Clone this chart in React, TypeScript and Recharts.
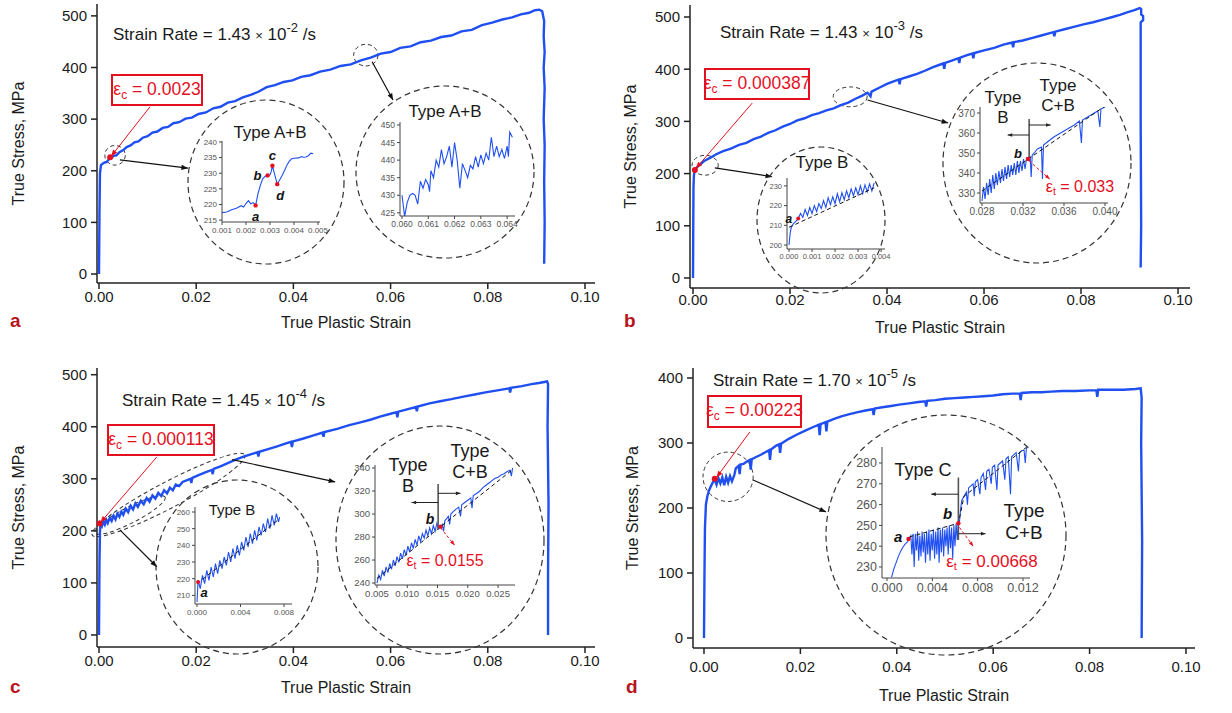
import React from 'react';
import { LineChart, Line, XAxis, YAxis, ReferenceDot, ReferenceLine, ReferenceArea } from 'recharts';

type P = [number, number];

// main curves: [true plastic strain, true stress MPa]
const curveA: P[] = [
  [0, 0], [0.0001, 120], [0.0002, 195], [0.0004, 211], [0.0008, 214], [0.0012, 216], [0.0016, 217], [0.002, 222],
  [0.0024, 224], [0.003, 229], [0.0036, 230], [0.0042, 236], [0.005, 240], [0.0057, 246], [0.0065, 249], [0.0073, 255],
  [0.0081, 257], [0.009, 264], [0.01, 267], [0.011, 274], [0.012, 276], [0.0131, 283], [0.0142, 285], [0.0153, 292],
  [0.0165, 294], [0.0178, 301], [0.0191, 303], [0.0205, 310], [0.022, 313], [0.0235, 321], [0.025, 324], [0.0265, 332],
  [0.028, 335], [0.0296, 342], [0.0312, 347], [0.0328, 353], [0.0345, 362], [0.0362, 366], [0.038, 372], [0.0398, 375],
  [0.0416, 382], [0.0435, 385], [0.0455, 392], [0.0476, 396], [0.0497, 403], [0.0518, 406], [0.0539, 414], [0.0559, 419],
  [0.058, 427], [0.06, 430], [0.062, 438], [0.0641, 441], [0.0662, 449], [0.0683, 452], [0.0704, 459], [0.0725, 462],
  [0.0746, 470], [0.0767, 473], [0.0788, 482], [0.0809, 487], [0.083, 493], [0.085, 497], [0.0868, 503], [0.0885, 506],
  [0.0897, 511], [0.0906, 512], [0.0912, 509], [0.0916, 490], [0.0915, 460], [0.0917, 430], [0.0915, 400], [0.0917, 360],
  [0.0915, 300], [0.0917, 250], [0.0916, 180], [0.0917, 100], [0.0916, 20],
];

const curveB: P[] = [
  [0, 0], [0.00005, 100], [0.0001, 175], [0.0002, 198], [0.0004, 207], [0.0008, 212], [0.0014, 217], [0.0023, 224],
  [0.0035, 230], [0.0048, 237], [0.0062, 243], [0.0078, 248], [0.0095, 255], [0.011, 259], [0.0125, 266], [0.014, 271],
  [0.0155, 278], [0.017, 283], [0.0185, 290], [0.02, 295], [0.0215, 302], [0.023, 306], [0.0245, 312], [0.026, 316],
  [0.0275, 321], [0.029, 325], [0.0305, 331], [0.032, 336], [0.0334, 343], [0.0348, 349], [0.036, 355], [0.0366, 348],
  [0.0368, 357], [0.0385, 365], [0.04, 372], [0.0415, 377], [0.0424, 380], [0.0426, 371], [0.0428, 381], [0.0445, 386],
  [0.0462, 391], [0.0478, 397], [0.0495, 404], [0.051, 409], [0.0516, 411], [0.0518, 401], [0.052, 412], [0.0535, 417],
  [0.0547, 421], [0.0549, 412], [0.0551, 422], [0.0565, 427], [0.0576, 430], [0.0578, 421], [0.058, 431], [0.06, 436],
  [0.0621, 441], [0.064, 447], [0.0658, 451], [0.066, 442], [0.0662, 452], [0.068, 455], [0.07, 460], [0.072, 465],
  [0.0743, 471], [0.0745, 463], [0.0747, 472], [0.0764, 476], [0.0785, 481], [0.0805, 486], [0.0825, 490], [0.0845, 495],
  [0.0865, 500], [0.088, 504], [0.0895, 509], [0.091, 513], [0.0921, 517], [0.0924, 515], [0.0924, 505], [0.0928, 502],
  [0.0928, 494], [0.0923, 490], [0.0923, 300], [0.0924, 100], [0.0923, 20],
];

const curveC: P[] = [
  [0, 0], [0.0001, 140], [0.0002, 200], [0.0003, 214], [0.0006, 209], [0.0009, 218], [0.0012, 212], [0.0015, 221],
  [0.0018, 215], [0.0022, 225], [0.0026, 219], [0.003, 229], [0.0034, 222], [0.0038, 233], [0.0042, 227], [0.0046, 237],
  [0.005, 231], [0.0055, 243], [0.006, 236], [0.0065, 248], [0.007, 241], [0.0075, 253], [0.008, 246], [0.0086, 258],
  [0.0092, 251], [0.0098, 263], [0.0104, 256], [0.011, 268], [0.0116, 262], [0.0122, 273], [0.0128, 267], [0.0134, 278],
  [0.014, 272], [0.0146, 283], [0.0152, 278], [0.0158, 289], [0.0165, 286], [0.0172, 294], [0.018, 297], [0.0188, 300],
  [0.019, 292], [0.0192, 302], [0.0205, 307], [0.022, 313], [0.0232, 317], [0.0234, 309], [0.0236, 319], [0.025, 324],
  [0.0265, 330], [0.0281, 337], [0.0296, 342], [0.0312, 347], [0.0326, 351], [0.0328, 343], [0.033, 352], [0.0348, 357],
  [0.0365, 362], [0.0385, 368], [0.0395, 371], [0.0397, 361], [0.0399, 372], [0.0419, 377], [0.044, 383], [0.046, 389],
  [0.0462, 381], [0.0464, 390], [0.049, 396], [0.0515, 403], [0.054, 409], [0.056, 414], [0.058, 420], [0.06, 425],
  [0.0612, 428], [0.0614, 418], [0.0616, 429], [0.0632, 433], [0.0652, 438], [0.0654, 430], [0.0656, 439], [0.068, 445],
  [0.0702, 449], [0.0725, 453], [0.075, 458], [0.0773, 462], [0.0795, 466], [0.082, 470], [0.0844, 474], [0.0846, 466],
  [0.0848, 475], [0.087, 478], [0.089, 482], [0.0905, 484], [0.0922, 487], [0.0924, 482], [0.0923, 400], [0.0925, 250],
  [0.0924, 120], [0.0924, 0],
];

const curveD: P[] = [
  [0, 0], [0.0001, 100], [0.0002, 170], [0.0004, 205], [0.0007, 218], [0.001, 226], [0.0014, 233], [0.0018, 239],
  [0.0022, 244], [0.0026, 236], [0.003, 246], [0.0034, 238], [0.0038, 247], [0.0042, 235], [0.0046, 248], [0.005, 239],
  [0.0054, 249], [0.0058, 241], [0.0063, 251], [0.0066, 261], [0.0072, 265], [0.0074, 252], [0.0076, 267], [0.0082, 268],
  [0.009, 272], [0.0095, 274], [0.0097, 259], [0.0099, 275], [0.0107, 278], [0.0118, 282], [0.013, 287], [0.0135, 289],
  [0.0137, 274], [0.0139, 290], [0.015, 296], [0.0156, 298], [0.0158, 285], [0.016, 299], [0.0175, 306], [0.019, 312],
  [0.021, 319], [0.0228, 325], [0.0238, 328], [0.024, 312], [0.0242, 329], [0.0252, 332], [0.0254, 318], [0.0256, 333],
  [0.027, 337], [0.0285, 341], [0.03, 344], [0.0317, 347], [0.0335, 350], [0.035, 352], [0.0352, 343], [0.0354, 353],
  [0.037, 355], [0.0388, 357], [0.0405, 359], [0.0425, 361], [0.0445, 363], [0.0459, 364], [0.0461, 356], [0.0463, 365],
  [0.048, 366], [0.05, 368], [0.052, 369], [0.054, 370], [0.056, 371], [0.058, 372], [0.06, 373], [0.062, 375],
  [0.064, 376], [0.0655, 376], [0.0657, 366], [0.0659, 377], [0.068, 378], [0.07, 378], [0.072, 379], [0.0743, 380],
  [0.077, 380], [0.08, 381], [0.0814, 381], [0.0816, 371], [0.0818, 382], [0.084, 382], [0.087, 382], [0.0895, 383],
  [0.0906, 384], [0.0908, 370], [0.0907, 300], [0.0909, 150], [0.0908, 0],
];

// insets
const insetA1: P[] = [
  [0.001, 217.4], [0.0012, 217.6], [0.0014, 218.3], [0.0016, 218.8], [0.0018, 219.6], [0.0019, 219.2], [0.002, 220.3],
  [0.0021, 221.2], [0.0022, 220.2], [0.0023, 220.6], [0.0024, 219.7], [0.0025, 223.5], [0.0026, 226.2], [0.0027, 228.3],
  [0.0028, 229.0], [0.0029, 229.3], [0.003, 229.5], [0.00305, 230.5], [0.0031, 232.4], [0.0032, 229.5], [0.0033, 226.5],
  [0.0034, 227.8], [0.0035, 229.2], [0.0036, 230.8], [0.0037, 232.5], [0.0038, 233.8], [0.0039, 234.6], [0.004, 234.8],
  [0.0042, 234.9], [0.0043, 235.3], [0.0044, 235.1], [0.0045, 235.2], [0.0046, 235.6], [0.0047, 236.4], [0.0048, 236.2],
];

const insetA2: P[] = [
  [0.06, 430], [0.0601, 424], [0.0602, 428], [0.0603, 430], [0.0604, 430.5], [0.0605, 430], [0.0606, 427.5], [0.0607, 434],
  [0.0608, 432], [0.0609, 434.5], [0.061, 433], [0.06105, 431], [0.0611, 437], [0.0612, 435], [0.0613, 440], [0.0614, 438],
  [0.0615, 443], [0.0616, 439], [0.0617, 441], [0.0618, 444], [0.0619, 438], [0.062, 445], [0.0621, 440], [0.0622, 432],
  [0.0623, 439], [0.0624, 437], [0.0625, 435], [0.0626, 438.5], [0.0627, 437.5], [0.0628, 441], [0.0629, 438], [0.063, 441.5],
  [0.0631, 439], [0.0632, 442], [0.0633, 440], [0.0634, 446.5], [0.0635, 441], [0.0636, 444], [0.0637, 441], [0.0638, 443],
  [0.0639, 440.5], [0.064, 444], [0.06405, 441], [0.0641, 448], [0.0642, 446.5],
];

const insetB1: P[] = [
  [0, 200], [0.00005, 206], [0.0001, 209], [0.0002, 211], [0.0003, 212], [0.0004, 213.5], [0.0005, 216], [0.0006, 214],
  [0.0007, 218], [0.0008, 215], [0.0009, 219], [0.001, 216], [0.0011, 220], [0.0012, 217], [0.0013, 221], [0.0014, 218.5],
  [0.0015, 222.5], [0.0016, 219], [0.0017, 224], [0.0018, 220.5], [0.0019, 224.5], [0.002, 221], [0.0021, 226], [0.0022, 222],
  [0.0023, 226.5], [0.0024, 223], [0.0025, 227.5], [0.0026, 224], [0.0027, 228.5], [0.0028, 225], [0.0029, 229], [0.003, 225.5],
  [0.0031, 230], [0.0032, 226], [0.0033, 230.5], [0.0034, 227], [0.0035, 231], [0.0036, 227.5], [0.0037, 231.5],
];
const trendB1: P[] = [[0, 209], [0.0037, 229]];

const insetB2: P[] = [
  [0.028, 326], [0.02815, 333], [0.0283, 327], [0.02845, 335], [0.0286, 329], [0.02875, 337], [0.0289, 330], [0.02905, 339],
  [0.0292, 332], [0.02935, 340], [0.0295, 334], [0.02965, 341], [0.0298, 335], [0.02995, 342], [0.0301, 336], [0.03025, 343],
  [0.0304, 337], [0.03055, 344], [0.0307, 338], [0.03085, 344], [0.031, 339], [0.03115, 345], [0.0313, 339], [0.03145, 346],
  [0.0316, 340], [0.03175, 346], [0.0319, 341], [0.03205, 347], [0.0322, 342], [0.03235, 347.5], [0.0325, 347], [0.0327, 348],
  [0.0328, 338], [0.0329, 349], [0.0331, 350], [0.0334, 352], [0.0338, 353], [0.0339, 337], [0.034, 354], [0.0345, 356],
  [0.035, 358], [0.0355, 359.5], [0.036, 361], [0.0365, 362.5], [0.037, 364], [0.0375, 366], [0.0377, 355], [0.0378, 366.5],
  [0.0383, 368], [0.0388, 369.5], [0.0393, 371], [0.0395, 363], [0.0396, 372], [0.04, 373],
];
const trendB2: P[] = [[0.028, 331], [0.04, 373.5]];

const insetC1: P[] = [
  [0, 206], [0.0001, 219], [0.0003, 214], [0.0005, 222], [0.0007, 217], [0.0009, 225], [0.0011, 219], [0.0013, 227],
  [0.0015, 221], [0.0017, 229], [0.0019, 223], [0.0021, 231], [0.0023, 226], [0.0025, 233], [0.0027, 228], [0.0029, 236],
  [0.0031, 230], [0.0033, 238], [0.0035, 232], [0.0037, 240], [0.0039, 234], [0.0041, 242], [0.0043, 237], [0.0045, 245],
  [0.0047, 239], [0.0049, 247], [0.0051, 241], [0.0053, 249], [0.0055, 243], [0.0057, 251], [0.0059, 246], [0.0061, 253],
  [0.0063, 248], [0.0065, 256], [0.0067, 250], [0.0069, 258], [0.0071, 252], [0.0073, 259], [0.0075, 254], [0.0076, 257],
];
const trendC1: P[] = [[0, 217], [0.0076, 256]];

const insetC2: P[] = [
  [0.005, 240], [0.0053, 247], [0.0056, 243], [0.0059, 251], [0.0062, 246], [0.0065, 254], [0.0068, 249], [0.0071, 257],
  [0.0074, 252], [0.0077, 260], [0.008, 255], [0.0083, 263], [0.0086, 258], [0.0089, 266], [0.0092, 261], [0.0095, 269],
  [0.0098, 264], [0.0101, 272], [0.0104, 267], [0.0107, 275], [0.011, 270], [0.0113, 278], [0.0116, 273], [0.0119, 281],
  [0.0122, 276], [0.0125, 283], [0.0128, 279], [0.0131, 286], [0.0134, 281], [0.0137, 288], [0.014, 283], [0.0143, 290],
  [0.0146, 285], [0.0149, 292], [0.0152, 287], [0.0155, 289], [0.0158, 291], [0.016, 285], [0.0162, 294], [0.0165, 296],
  [0.0168, 298], [0.017, 291], [0.0172, 300], [0.0176, 302], [0.018, 304], [0.0185, 306], [0.0188, 298], [0.019, 308],
  [0.0195, 310], [0.02, 312], [0.0205, 314], [0.0207, 305], [0.0209, 316], [0.0215, 318], [0.022, 320], [0.0225, 323],
  [0.023, 325], [0.0235, 327], [0.024, 329], [0.0245, 331], [0.025, 332], [0.0255, 334], [0.026, 335], [0.0265, 337],
  [0.027, 338], [0.0272, 333], [0.0274, 340],
];
const trendC2: P[] = [[0.005, 244], [0.0155, 289], [0.0275, 339]];

const insetD1: P[] = [
  [0.0004, 225], [0.0006, 229], [0.0008, 232], [0.001, 235], [0.0012, 237.5], [0.0014, 239.5], [0.0016, 241], [0.0018, 242],
  [0.0019, 243], [0.0021, 245], [0.0022, 236], [0.0023, 246], [0.0024, 230], [0.0025, 246], [0.0026, 238], [0.0027, 247],
  [0.0028, 233], [0.0029, 245], [0.003, 235], [0.0031, 247], [0.0032, 237], [0.0033, 246], [0.0034, 232], [0.0035, 247],
  [0.0036, 236], [0.0037, 248], [0.0038, 233], [0.0039, 246], [0.004, 238], [0.0041, 248], [0.0042, 234], [0.0043, 247],
  [0.0044, 236], [0.0045, 249], [0.0046, 232], [0.0047, 248], [0.0048, 237], [0.0049, 249], [0.005, 235], [0.0051, 248],
  [0.0052, 240], [0.0053, 249], [0.0054, 236], [0.0055, 250], [0.0056, 239], [0.0057, 249], [0.0058, 234], [0.0059, 250],
  [0.006, 240], [0.0061, 251], [0.0062, 243], [0.0063, 251], [0.0064, 252], [0.0065, 258], [0.0066, 262], [0.0068, 264],
  [0.007, 266], [0.0071, 260], [0.0072, 268], [0.0074, 269], [0.0076, 270], [0.0077, 264], [0.0078, 271], [0.008, 272],
  [0.0082, 265], [0.0083, 273], [0.0085, 275], [0.0087, 267], [0.0088, 276], [0.009, 277], [0.0092, 270], [0.0093, 278],
  [0.0095, 279], [0.0097, 267], [0.0098, 279], [0.01, 280], [0.0102, 281], [0.0104, 272], [0.0105, 282], [0.0107, 283],
  [0.0109, 265], [0.011, 283], [0.0112, 284], [0.0114, 285], [0.0116, 276], [0.0117, 285], [0.0119, 286], [0.0121, 286],
  [0.0122, 280], [0.0123, 287], [0.0124, 287.5],
];
const trendD1: P[] = [[0.002, 244.5], [0.0063, 251], [0.0068, 264], [0.0124, 288]];

const mainXTicks = [0, 0.02, 0.04, 0.06, 0.08, 0.1];
const ticks500 = [0, 100, 200, 300, 400, 500];
const ticks400 = [0, 100, 200, 300, 400];

const BLUE = '#1f4ff0';
const RED = '#e5101f';
const INK = '#1a1a1a';

const pts = (a: P[]) => a.map(([s, v]) => ({ s, v }));
const seg = (s1: number, v1: number, s2: number, v2: number) => [{ x: s1, y: v1 }, { x: s2, y: v2 }];

const arrow = (color: string, w = 1.2, dash?: string, head = 7) => (p: any) => {
  const { x1, y1, x2, y2 } = p;
  const a = Math.atan2(y2 - y1, x2 - x1);
  const hx = (d: number) => x2 - head * Math.cos(a + d);
  const hy = (d: number) => y2 - head * Math.sin(a + d);
  return (
    <g>
      <line x1={x1} y1={y1} x2={x2} y2={y2} stroke={color} strokeWidth={w} strokeDasharray={dash} />
      <polygon points={`${x2},${y2} ${hx(0.38)},${hy(0.38)} ${hx(-0.38)},${hy(-0.38)}`} fill={color} />
    </g>
  );
};
const bar = (p: any) => <line x1={p.x1} y1={p.y1} x2={p.x2} y2={p.y2} stroke="#555" strokeWidth={1.6} />;

const ellipse = (ry = 0) => (p: any) => {
  const { x, y, width, height } = p;
  const cx = x + width / 2;
  const cy = y + height / 2;
  if (!ry) {
    return <ellipse cx={cx} cy={cy} rx={width / 2} ry={height / 2} fill="none" stroke="#333" strokeWidth={1} strokeDasharray="4 3" />;
  }
  const rx = Math.hypot(width, height) / 2;
  const deg = (Math.atan2(-height, width) * 180) / Math.PI;
  return (
    <ellipse cx={cx} cy={cy} rx={rx} ry={ry} transform={`rotate(${deg} ${cx} ${cy})`}
      fill="none" stroke="#333" strokeWidth={1} strokeDasharray="4 3" />
  );
};

type Cfg = {
  left: number; top: number; width: number; height: number; mt: number; mr: number; yw: number; xh: number;
  xd: [number, number]; yd: [number, number]; yTicks: number[]; xtm: number; xlo: number; ylo: number;
};

const cfgA: Cfg = { left: 0, top: 0, width: 610, height: 345, mt: 4, mr: 15, yw: 97, xh: 62, xd: [-0.00041, 0.10206], yd: [-17.4, 523], yTicks: ticks500, xtm: 2, xlo: 17, ylo: 18 };
const cfgB: Cfg = { left: 616, top: 0, width: 590, height: 345, mt: 5, mr: 16, yw: 74, xh: 57, xd: [-0.00062, 0.10247], yd: [-19.2, 523], yTicks: ticks500, xtm: 0, xlo: 12, ylo: 14 };
const cfgC: Cfg = { left: 0, top: 360, width: 610, height: 353, mt: 8, mr: 15, yw: 97, xh: 66, xd: [-0.00041, 0.10206], yd: [-23.1, 512.9], yTicks: ticks500, xtm: 2, xlo: 20, ylo: 18 };
const cfgD: Cfg = { left: 616, top: 360, width: 590, height: 353, mt: 8, mr: 11, yw: 77, xh: 65, xd: [-0.00228, 0.10187], yd: [-15.4, 415.4], yTicks: ticks400, xtm: 7, xlo: 12, ylo: 16 };

const axisStroke = { stroke: '#222', strokeWidth: 1.5 };

function MainChart({ cfg, data, children }: { cfg: Cfg; data: P[]; children?: React.ReactNode }) {
  return (
    <div style={{ position: 'absolute', left: cfg.left, top: cfg.top }}>
      <LineChart width={cfg.width} height={cfg.height} data={pts(data)} margin={{ top: cfg.mt, right: cfg.mr, bottom: 0, left: 0 }}>
        <XAxis type="number" dataKey="s" domain={cfg.xd} ticks={mainXTicks} allowDataOverflow interval={0} height={cfg.xh}
          tickFormatter={(t: number) => t.toFixed(2)} tick={{ fontSize: 15, fill: INK }} tickSize={6} tickMargin={cfg.xtm}
          axisLine={axisStroke} tickLine={axisStroke}
          label={{ value: 'True Plastic Strain', position: 'insideBottom', offset: cfg.xlo, fontSize: 16, fill: INK }} />
        <YAxis type="number" dataKey="v" domain={cfg.yd} ticks={cfg.yTicks} allowDataOverflow interval={0} width={cfg.yw}
          tick={{ fontSize: 15, fill: INK }} tickSize={6} tickMargin={4} axisLine={axisStroke} tickLine={axisStroke}
          label={{ value: 'True Stress, MPa', angle: -90, position: 'insideLeft', offset: cfg.ylo, fontSize: 16, fill: INK, style: { textAnchor: 'middle' } }} />
        <Line dataKey="v" stroke={BLUE} strokeWidth={2.4} dot={false} isAnimationActive={false} />
        {children}
      </LineChart>
    </div>
  );
}

type Box = { x: number; y: number; r: number; b: number };
type InsetProps = {
  box: Box; xd: [number, number]; yd: [number, number]; xTicks: number[]; yTicks: number[];
  font: number; data: P[]; trend?: P[]; children?: React.ReactNode;
};

function Inset({ box, xd, yd, xTicks, yTicks, font, data, trend, children }: InsetProps) {
  const yw = 34, xh = 24, mt = 4, mr = 16;
  const ax = { stroke: '#444', strokeWidth: 1 };
  return (
    <div style={{ position: 'absolute', left: box.x - yw, top: box.y - mt }}>
      <LineChart width={box.r - box.x + yw + mr} height={box.b - box.y + mt + xh} margin={{ top: mt, right: mr, bottom: 0, left: 0 }}>
        <XAxis type="number" dataKey="s" domain={xd} ticks={xTicks} allowDataOverflow interval={0} height={xh}
          tickFormatter={(t: number) => t.toFixed(3)} tick={{ fontSize: font, fill: '#555' }} tickSize={3} tickMargin={2}
          axisLine={ax} tickLine={ax} />
        <YAxis type="number" dataKey="v" domain={yd} ticks={yTicks} allowDataOverflow interval={0} width={yw}
          tick={{ fontSize: font, fill: '#555' }} tickSize={3} tickMargin={2} axisLine={ax} tickLine={ax} />
        <Line data={pts(data)} dataKey="v" stroke={BLUE} strokeWidth={1.1} dot={false} isAnimationActive={false} />
        {trend && (
          <Line data={pts(trend)} dataKey="v" stroke="#111" strokeWidth={1} strokeDasharray="4 3" dot={false} isAnimationActive={false} />
        )}
        {children}
      </LineChart>
    </div>
  );
}

const ptLabel = (value: string, position: string, fontSize = 13, extra: any = {}) => ({
  value, position, fontSize, fontWeight: 700, fontStyle: 'italic', fill: '#111', offset: 4, ...extra,
});

function Txt({ x, y, size, color = INK, children }: { x: number; y: number; size: number; color?: string; children: React.ReactNode }) {
  return (
    <div style={{ position: 'absolute', left: x, top: y, transform: 'translate(-50%, -50%)', fontSize: size, color, textAlign: 'center', lineHeight: 1.15, whiteSpace: 'nowrap' }}>
      {children}
    </div>
  );
}

function RateText({ x, y, mant, exp }: { x: number; y: number; mant: string; exp: string }) {
  return (
    <div style={{ position: 'absolute', left: x, top: y, fontSize: 17, color: INK, whiteSpace: 'nowrap' }}>
      Strain Rate = {mant} <span style={{ fontSize: 13 }}>×</span> 10<sup style={{ fontSize: 13, verticalAlign: 8 }}>{exp}</sup> /s
    </div>
  );
}

function EpsBox({ x, y, w, h, val }: { x: number; y: number; w: number; h: number; val: string }) {
  return (
    <div style={{ position: 'absolute', left: x, top: y, width: w, height: h, border: `2px solid ${RED}`, background: '#fff', color: RED, fontSize: 17.5, display: 'flex', alignItems: 'center', justifyContent: 'center', boxSizing: 'border-box', whiteSpace: 'nowrap' }}>
      <span>ε<sub style={{ fontSize: 12, verticalAlign: -4 }}>c</sub> = {val}</span>
    </div>
  );
}

const Eps = ({ sub, val }: { sub: string; val: string }) => (
  <span>ε<sub style={{ fontSize: '0.65em', verticalAlign: -3 }}>{sub}</sub> = {val}</span>
);

function PanelLetter({ x, y, t }: { x: number; y: number; t: string }) {
  return <div style={{ position: 'absolute', left: x, top: y, fontSize: 19, fontWeight: 700, color: '#b8141e' }}>{t}</div>;
}

// dashed inset circles (page px)
const circles = [
  { cx: 266, cy: 182, rx: 78, ry: 82 },
  { cx: 445, cy: 172, rx: 89, ry: 86 },
  { cx: 821, cy: 220, rx: 64, ry: 73 },
  { cx: 1037, cy: 163, rx: 94, ry: 100 },
  { cx: 237, cy: 567, rx: 81, ry: 87 },
  { cx: 440, cy: 540, rx: 104, ry: 114 },
  { cx: 946, cy: 535, rx: 120, ry: 120 },
];

export default function App() {
  const blk = arrow('#111', 1.2, undefined, 7);
  const red = arrow(RED, 1, undefined, 7);
  const redDash = arrow(RED, 1, '3 2', 5);
  const small = arrow('#222', 1, undefined, 5);
  return (
    <div style={{ position: 'absolute', left: 0, top: 0, width: 1232, height: 713, background: '#fff', fontFamily: "'Liberation Sans', Arial, sans-serif", overflow: 'hidden' }}>
      <MainChart cfg={cfgA} data={curveA}>
        <ReferenceArea x1={0.0012} x2={0.0054} y1={211} y2={249} ifOverflow="visible" shape={ellipse()} />
        <ReferenceArea x1={0.0524} x2={0.0574} y1={403} y2={445} ifOverflow="visible" shape={ellipse()} />
        <ReferenceLine segment={seg(0.0105, 324, 0.0025, 228)} ifOverflow="visible" shape={red} />
        <ReferenceDot x={0.0023} y={226} r={3} fill={RED} stroke="none" />
        <ReferenceLine segment={seg(0.0043, 221, 0.0183, 205)} ifOverflow="visible" shape={blk} />
        <ReferenceLine segment={seg(0.0562, 411, 0.0605, 337)} ifOverflow="visible" shape={blk} />
      </MainChart>
      <MainChart cfg={cfgB} data={curveB}>
        <ReferenceArea x1={-0.0002} x2={0.0052} y1={197} y2={235} ifOverflow="visible" shape={ellipse()} />
        <ReferenceArea x1={0.0289} x2={0.0359} y1={328} y2={366} ifOverflow="visible" shape={ellipse()} />
        <ReferenceLine segment={seg(0.0122, 335, 0.0006, 210)} ifOverflow="visible" shape={red} />
        <ReferenceDot x={0.000387} y={207} r={3} fill={RED} stroke="none" />
        <ReferenceLine segment={seg(0.0045, 211, 0.0163, 194)} ifOverflow="visible" shape={blk} />
        <ReferenceLine segment={seg(0.036, 341, 0.0526, 297)} ifOverflow="visible" shape={blk} />
      </MainChart>
      <MainChart cfg={cfgC} data={curveC}>
        <ReferenceArea x1={-0.0014} x2={0.03} y1={192} y2={346} ifOverflow="visible" shape={ellipse(13)} />
        <ReferenceArea x1={-0.0008} x2={0.0136} y1={196} y2={265} ifOverflow="visible" shape={ellipse(8)} />
        <ReferenceLine segment={seg(0.0119, 342, 0.0003, 216)} ifOverflow="visible" shape={red} />
        <ReferenceDot x={0.000113} y={214} r={3} fill={RED} stroke="none" />
        <ReferenceLine segment={seg(0.0043, 202, 0.0119, 131)} ifOverflow="visible" shape={blk} />
        <ReferenceLine segment={seg(0.0274, 337, 0.0486, 294)} ifOverflow="visible" shape={blk} />
      </MainChart>
      <MainChart cfg={cfgD} data={curveD}>
        <ReferenceArea x1={-0.0002} x2={0.0102} y1={210} y2={286} ifOverflow="visible" shape={ellipse()} />
        <ReferenceLine segment={seg(0.0095, 317, 0.0026, 247)} ifOverflow="visible" shape={red} />
        <ReferenceDot x={0.00223} y={245} r={3} fill={RED} stroke="none" />
        <ReferenceLine segment={seg(0.0102, 243, 0.0253, 194)} ifOverflow="visible" shape={blk} />
      </MainChart>

      <svg width={1232} height={713} style={{ position: 'absolute', left: 0, top: 0, pointerEvents: 'none' }}>
        {circles.map((c, i) => (
          <ellipse key={i} cx={c.cx} cy={c.cy} rx={c.rx} ry={c.ry} fill="none" stroke="#333" strokeWidth={1.2} strokeDasharray="6 4" />
        ))}
      </svg>

      {/* a: type A+B */}
      <Inset box={{ x: 222, y: 141, r: 320, b: 222 }} xd={[0.001, 0.005083]} yd={[214.4, 240.3]}
        xTicks={[0.001, 0.002, 0.003, 0.004, 0.005]} yTicks={[215, 220, 225, 230, 235, 240]} font={8} data={insetA1}>
        <ReferenceDot x={0.0024} y={219.7} r={2.2} fill={RED} stroke="none" label={ptLabel('a', 'bottom')} />
        <ReferenceDot x={0.0029} y={229.3} r={2.2} fill={RED} stroke="none" label={ptLabel('b', 'left')} />
        <ReferenceDot x={0.0031} y={232.4} r={2.2} fill={RED} stroke="none" label={ptLabel('c', 'top')} />
        <ReferenceDot x={0.0033} y={226.5} r={2.2} fill={RED} stroke="none" label={ptLabel('d', 'bottom', 13, { dx: 3 })} />
      </Inset>
      <Inset box={{ x: 400, y: 122, r: 515, b: 216 }} xd={[0.059924, 0.0643]} yd={[424.1, 450.85]}
        xTicks={[0.06, 0.061, 0.062, 0.063, 0.064]} yTicks={[425, 430, 435, 440, 445, 450]} font={8.5} data={insetA2} />

      {/* b */}
      <Inset box={{ x: 787, y: 178, r: 885, b: 249 }} xd={[-0.000087, 0.00417]} yd={[198, 234]}
        xTicks={[0, 0.001, 0.002, 0.003, 0.004]} yTicks={[200, 210, 220, 230]} font={7.5} data={insetB1} trend={trendB1}>
        <ReferenceDot x={0.0004} y={213.5} r={2} fill={RED} stroke="none" label={ptLabel('a', 'left', 12)} />
      </Inset>
      <Inset box={{ x: 980, y: 107, r: 1108, b: 203 }} xd={[0.027805, 0.040293]} yd={[325, 373]}
        xTicks={[0.028, 0.032, 0.036, 0.04]} yTicks={[330, 340, 350, 360, 370]} font={10} data={insetB2} trend={trendB2}>
        <ReferenceLine segment={seg(0.0326, 346, 0.0326, 367)} ifOverflow="visible" shape={bar} />
        <ReferenceLine segment={seg(0.0326, 359, 0.0305, 359)} ifOverflow="visible" shape={small} />
        <ReferenceLine segment={seg(0.0326, 364, 0.0347, 364)} ifOverflow="visible" shape={small} />
        <ReferenceLine segment={seg(0.0326, 346, 0.0346, 337)} ifOverflow="visible" shape={redDash} />
        <ReferenceDot x={0.0325} y={347} r={2.2} fill={RED} stroke="none" label={ptLabel('b', 'left', 13, { dy: -6 })} />
      </Inset>

      {/* c */}
      <Inset box={{ x: 195, y: 507, r: 292, b: 604 }} xd={[-0.000184, 0.008736]} yd={[204.8, 263]}
        xTicks={[0, 0.004, 0.008]} yTicks={[210, 220, 230, 240, 250, 260]} font={8} data={insetC1} trend={trendC1}>
        <ReferenceDot x={0.0001} y={218} r={2} fill={RED} stroke="none" label={ptLabel('a', 'bottom', 13, { dx: 6 })} />
      </Inset>
      <Inset box={{ x: 375, y: 465, r: 515, b: 585 }} xd={[0.00467, 0.0278]} yd={[238.3, 342.6]}
        xTicks={[0.005, 0.01, 0.015, 0.02, 0.025]} yTicks={[240, 260, 280, 300, 320, 340]} font={9.5} data={insetC2} trend={trendC2}>
        <ReferenceLine segment={seg(0.0151, 287, 0.0151, 326)} ifOverflow="visible" shape={bar} />
        <ReferenceLine segment={seg(0.0151, 310, 0.0107, 310)} ifOverflow="visible" shape={small} />
        <ReferenceLine segment={seg(0.0151, 318, 0.0188, 318)} ifOverflow="visible" shape={small} />
        <ReferenceLine segment={seg(0.0155, 288, 0.0178, 273)} ifOverflow="visible" shape={redDash} />
        <ReferenceDot x={0.0155} y={289} r={2.2} fill={RED} stroke="none" label={ptLabel('b', 'left', 14, { dy: -8 })} />
      </Inset>

      {/* d */}
      <Inset box={{ x: 882, y: 447, r: 1030, b: 578 }} xd={[-0.00044, 0.01262]} yd={[224.7, 287.7]}
        xTicks={[0, 0.004, 0.008, 0.012]} yTicks={[230, 240, 250, 260, 270, 280]} font={12.5} data={insetD1} trend={trendD1}>
        <ReferenceLine segment={seg(0.0063, 243, 0.0063, 273)} ifOverflow="visible" shape={bar} />
        <ReferenceLine segment={seg(0.0063, 265, 0.0039, 265)} ifOverflow="visible" shape={small} />
        <ReferenceLine segment={seg(0.0063, 246, 0.0087, 246)} ifOverflow="visible" shape={small} />
        <ReferenceLine segment={seg(0.0064, 249, 0.0076, 240)} ifOverflow="visible" shape={redDash} />
        <ReferenceDot x={0.0019} y={243.5} r={2.2} fill={RED} stroke="none" label={ptLabel('a', 'left', 15, { dy: -2 })} />
        <ReferenceDot x={0.0063} y={251} r={2.2} fill={RED} stroke="none" label={ptLabel('b', 'left', 15, { dy: -10 })} />
      </Inset>

      {/* texts */}
      <RateText x={113} y={20} mant="1.43" exp="-2" />
      <RateText x={720} y={18} mant="1.43" exp="-3" />
      <RateText x={122} y={386} mant="1.45" exp="-4" />
      <RateText x={713} y={366} mant="1.70" exp="-5" />

      <EpsBox x={111} y={74} w={92} h={32} val="0.0023" />
      <EpsBox x={704} y={68} w={106} h={32} val="0.000387" />
      <EpsBox x={107} y={424} w={108} h={32} val="0.000113" />
      <EpsBox x={707} y={395} w={95} h={33} val="0.00223" />

      <Txt x={270} y={133} size={17}>Type A+B</Txt>
      <Txt x={445} y={112} size={17}>Type A+B</Txt>
      <Txt x={822} y={163} size={17}>Type B</Txt>
      <Txt x={1003} y={108} size={17}>Type<br />B</Txt>
      <Txt x={1058} y={96} size={17}>Type<br />C+B</Txt>
      <Txt x={1080} y={188} size={16} color={RED}><Eps sub="t" val="0.033" /></Txt>
      <Txt x={232} y={510} size={15}>Type B</Txt>
      <Txt x={408} y={476} size={18}>Type<br />B</Txt>
      <Txt x={470} y={462} size={18}>Type<br />C+B</Txt>
      <Txt x={445} y={562} size={16} color={RED}><Eps sub="t" val="0.0155" /></Txt>
      <Txt x={923} y={470} size={18}>Type C</Txt>
      <Txt x={1024} y={522} size={19}>Type<br />C+B</Txt>
      <Txt x={992} y={562} size={17} color={RED}><Eps sub="t" val="0.00668" /></Txt>

      <PanelLetter x={10} y={310} t="a" />
      <PanelLetter x={624} y={310} t="b" />
      <PanelLetter x={10} y={676} t="c" />
      <PanelLetter x={626} y={676} t="d" />
    </div>
  );
}
